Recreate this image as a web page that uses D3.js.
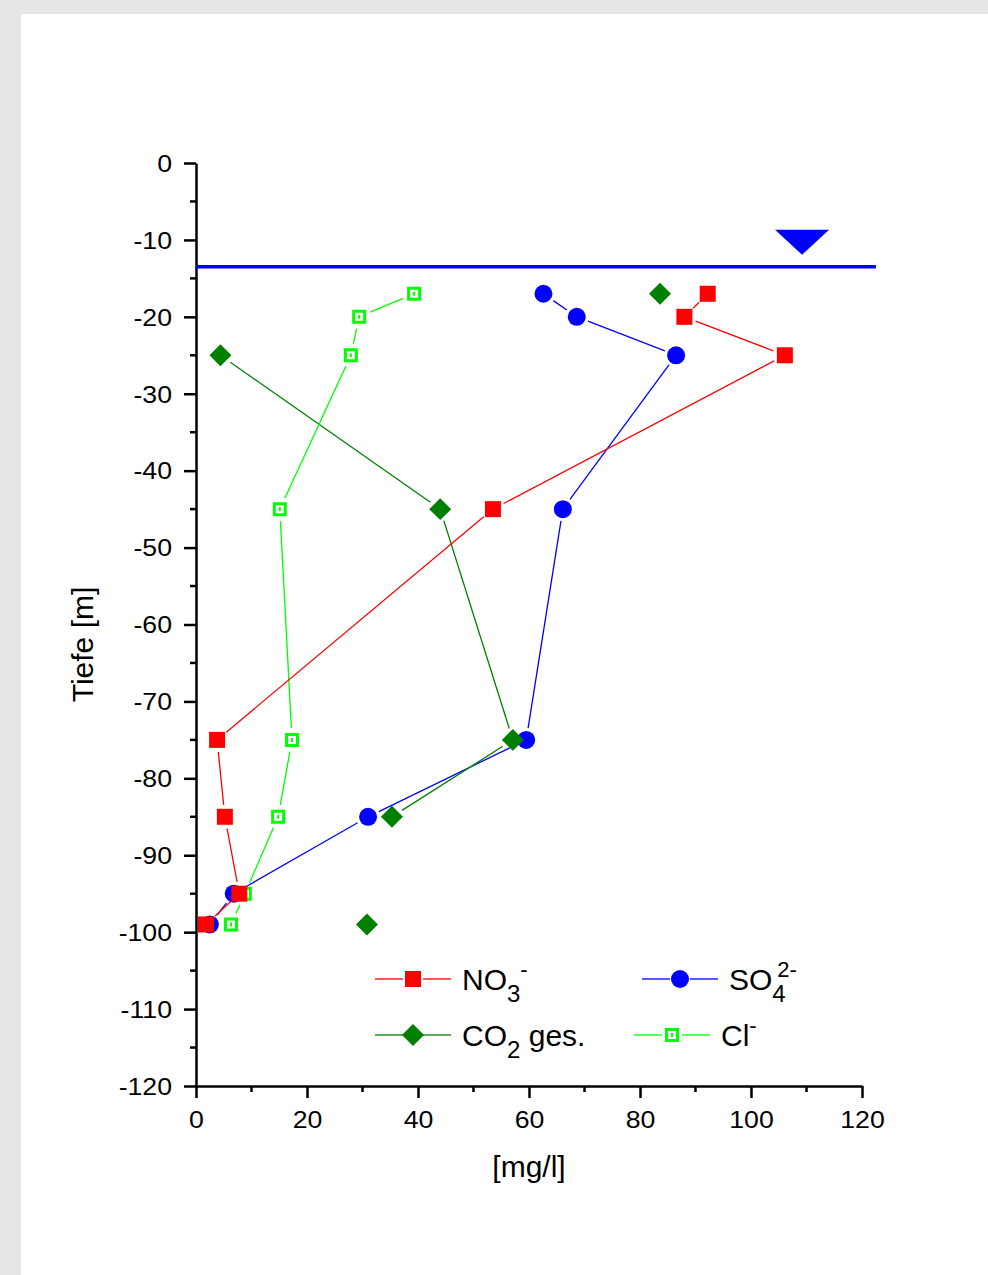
<!DOCTYPE html>
<html>
<head>
<meta charset="utf-8">
<script src="https://cdn.jsdelivr.net/npm/d3@7"></script>
<style>
  html, body { margin: 0; padding: 0; background: #e6e6e6; }
  svg { display: block; }
  text { font-family: "Liberation Sans", Arial, sans-serif; fill: #000; }
</style>
</head>
<body>
<svg id="chart" width="988" height="1275"></svg>
<script>
// depth of the sampling points [m]
const depth = [-17, -20, -25, -45, -75, -85, -95, -99];

// concentrations [mg/l], null = not measured
const no3 = [92.2, 88.0, 106.1, 53.5, 3.8, 5.2, 7.8, 1.8];
const so4 = [62.6, 68.6, 86.5, 66.1, 59.5, 31.0, 6.8, 2.5];
const co2 = [83.6, null, 4.4, 44.0, 57.1, 35.3, null, 30.8];
const cl  = [39.3, 29.4, 27.9, 15.1, 17.3, 14.8, 8.8, 6.3];

const xTicks = [0, 20, 40, 60, 80, 100, 120];
const yTicks = [0, -10, -20, -30, -40, -50, -60, -70, -80, -90, -100, -110, -120];

// groundwater level
const waterLevel = -13.5;
const waterLineEnd = 122.5;
const waterMarkX = 109.2;

const series = [
    { key: "so4", values: so4, color: "#0000ff", symbol: "circle",
      label: [{ t: "SO", k: "base" }, { t: "4", k: "sub" }, { t: "2-", k: "sup", stack: true }] },
    { key: "co2", values: co2, color: "#008000", symbol: "diamond",
      label: [{ t: "CO", k: "base" }, { t: "2", k: "sub" }, { t: " ges.", k: "base" }] },
    { key: "cl", values: cl, color: "#00ff00", symbol: "open",
      label: [{ t: "Cl", k: "base" }, { t: "-", k: "sup" }] },
    { key: "no3", values: no3, color: "#ff0000", symbol: "square",
      label: [{ t: "NO", k: "base" }, { t: "3", k: "sub" }, { t: "-", k: "sup" }] }
];

// legend slots: NO3, SO4 / CO2, Cl
const legendSlots = {
    no3: { x: 375, y: 979 },
    so4: { x: 642, y: 979 },
    co2: { x: 375, y: 1035 },
    cl:  { x: 634, y: 1035 }
};

const svg = d3.select("#chart");

svg.append("rect")
    .attr("x", 21).attr("y", 14)
    .attr("width", 988 - 21).attr("height", 1275 - 14)
    .attr("fill", "#fff");

const x = d3.scaleLinear().domain([0, 120]).range([196, 862]);
const y = d3.scaleLinear().domain([0, -120]).range([163, 1086]);

const TICK_STRETCH = 1.16;

// y axis
const yAxis = svg.append("g")
    .attr("transform", `translate(${x(0)},0)`)
    .call(d3.axisLeft(y).tickValues(yTicks).tickSize(12).tickSizeOuter(0).tickFormat(d => String(d)));
yAxis.selectAll(".tick line").attr("stroke-width", 2.5);
yAxis.select(".domain").attr("stroke-width", 2.5);
yAxis.selectAll(".tick text")
    .attr("x", -24 / TICK_STRETCH)
    .attr("dy", "0.36em")
    .attr("transform", `scale(${TICK_STRETCH},1)`)
    .style("font-size", "23px")
    .style("font-family", "'Liberation Sans', Arial, sans-serif");

svg.append("g").selectAll("line")
    .data(d3.range(-5, -120, -10))
    .join("line")
    .attr("x1", x(0) - 6).attr("x2", x(0))
    .attr("y1", d => y(d)).attr("y2", d => y(d))
    .attr("stroke", "#000").attr("stroke-width", 2.5);

// x axis
const xAxis = svg.append("g")
    .attr("transform", `translate(0,${y(-120)})`)
    .call(d3.axisBottom(x).tickValues(xTicks).tickSize(12).tickSizeOuter(0).tickPadding(14).tickFormat(d => String(d)));
xAxis.selectAll(".tick line").attr("stroke-width", 2.5);
xAxis.select(".domain").attr("stroke-width", 2.5);
xAxis.selectAll(".tick text")
    .attr("transform", `scale(${TICK_STRETCH},1)`)
    .style("font-size", "23px")
    .style("font-family", "'Liberation Sans', Arial, sans-serif");

svg.append("g").selectAll("line")
    .data(d3.range(10, 120, 20))
    .join("line")
    .attr("x1", d => x(d)).attr("x2", d => x(d))
    .attr("y1", y(-120)).attr("y2", y(-120) + 6)
    .attr("stroke", "#000").attr("stroke-width", 2.5);

// axis titles
svg.append("text")
    .attr("transform", `translate(93,${(y(0) + y(-120)) / 2 + 20}) rotate(-90)`)
    .attr("text-anchor", "middle")
    .style("font-size", "30px")
    .text("Tiefe [m]");

svg.append("text")
    .attr("x", (x(0) + x(120)) / 2)
    .attr("y", 1177)
    .attr("text-anchor", "middle")
    .style("font-size", "30px")
    .text("[mg/l]");

// groundwater level line + marker
svg.append("line")
    .attr("x1", x(0)).attr("x2", x(waterLineEnd))
    .attr("y1", y(waterLevel)).attr("y2", y(waterLevel))
    .attr("stroke", "#0000ff").attr("stroke-width", 3.5);

const wx = x(waterMarkX), wy = y(waterLevel);
svg.append("path")
    .attr("d", `M${wx - 27},${wy - 37} L${wx + 27},${wy - 37} L${wx},${wy - 12} Z`)
    .attr("fill", "#0000ff");

// marker drawing
function drawMarker(g, s, px, py) {
    if (s.symbol === "circle") {
        g.append("path")
            .attr("transform", `translate(${px},${py})`)
            .attr("d", d3.symbol(d3.symbolCircle, Math.PI * 81)())
            .attr("fill", s.color);
    } else if (s.symbol === "square") {
        g.append("path")
            .attr("transform", `translate(${px},${py})`)
            .attr("d", d3.symbol(d3.symbolSquare, 256)())
            .attr("fill", s.color);
    } else if (s.symbol === "diamond") {
        g.append("path")
            .attr("transform", `translate(${px},${py}) rotate(45)`)
            .attr("d", d3.symbol(d3.symbolSquare, 242)())
            .attr("fill", s.color);
    } else {
        g.append("path")
            .attr("transform", `translate(${px},${py})`)
            .attr("d", d3.symbol(d3.symbolSquare, 121)())
            .attr("fill", "#fff")
            .attr("stroke", s.color)
            .attr("stroke-width", 3);
        g.append("rect")
            .attr("x", px - 1).attr("y", py - 2)
            .attr("width", 2).attr("height", 4)
            .attr("fill", s.color);
    }
}

// line segments, stopped short of the markers
function trimmedSegment(a, b, gap) {
    const dx = b[0] - a[0], dy = b[1] - a[1];
    const len = Math.hypot(dx, dy);
    if (len <= gap * 2) return null;
    const ux = dx / len, uy = dy / len;
    return [a[0] + ux * gap, a[1] + uy * gap, b[0] - ux * gap, b[1] - uy * gap];
}

const plot = svg.append("g");

series.forEach(s => {
    const g = plot.append("g").attr("class", "series-" + s.key);
    const pts = s.values.map((v, i) => v == null ? null : [x(v), y(depth[i])]);

    for (let i = 0; i < pts.length - 1; i++) {
        if (!pts[i] || !pts[i + 1]) continue;
        const seg = trimmedSegment(pts[i], pts[i + 1], 12);
        if (!seg) continue;
        g.append("line")
            .attr("x1", seg[0]).attr("y1", seg[1])
            .attr("x2", seg[2]).attr("y2", seg[3])
            .attr("stroke", s.color).attr("stroke-width", 1.3);
    }
    pts.forEach(p => { if (p) drawMarker(g, s, p[0], p[1]); });
});

// legend
const legend = svg.append("g").attr("class", "legend");
series.forEach(s => {
    const slot = legendSlots[s.key];
    const g = legend.append("g");
    const cx = slot.x + 38;
    g.append("line")
        .attr("x1", slot.x).attr("x2", cx - 10)
        .attr("y1", slot.y).attr("y2", slot.y)
        .attr("stroke", s.color).attr("stroke-width", 1.3);
    g.append("line")
        .attr("x1", cx + 10).attr("x2", slot.x + 76)
        .attr("y1", slot.y).attr("y2", slot.y)
        .attr("stroke", s.color).attr("stroke-width", 1.3);
    drawMarker(g, s, cx, slot.y);

    let tx = slot.x + 87;
    const base = slot.y + 11;
    let subStart = tx;
    s.label.forEach(part => {
        let px = tx, py = base, size = 30;
        if (part.k === "sub") { py = base + 12; size = 24; subStart = tx; }
        if (part.k === "sup") { py = base - 13; size = 22; if (part.stack) px = subStart + 5; }
        const t = g.append("text")
            .attr("x", px).attr("y", py)
            .style("font-size", size + "px")
            .style("white-space", "pre")
            .attr("xml:space", "preserve")
            .text(part.t);
        const w = t.node().getComputedTextLength();
        tx = Math.max(tx, px + w);
    });
});
</script>
</body>
</html>
